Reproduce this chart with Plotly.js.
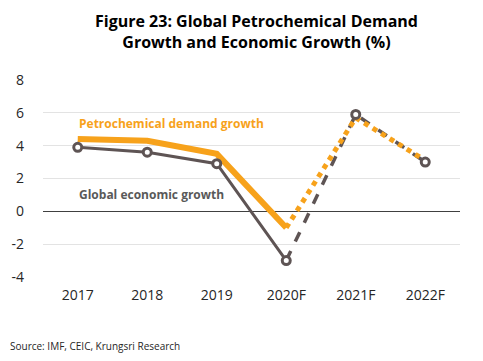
<!DOCTYPE html>
<html>
<head>
<meta charset="utf-8">
<script src="https://cdn.plot.ly/plotly-3.0.1.min.js"></script>
<style>html,body{margin:0;padding:0;background:#fff;}#chart{width:483px;height:361px;}</style>
</head>
<body>
<div id="chart"></div>
<script>
const categories = ["2017", "2018", "2019", "2020F", "2021F", "2022F"];
const petroDemand = [4.4, 4.3, 3.5, -1.0, 5.7, 3.1];
const econGrowth = [3.9, 3.6, 2.9, -3.0, 5.9, 3.0];
const yTicks = [-4, -2, 0, 2, 4, 6, 8];
const splitIdx = 3; // 2020F: actual -> forecast

const ORANGE = "#F7A21B";
const GRAY = "#5E5454";

const traces = [
  {x: categories.slice(0, splitIdx + 1), y: econGrowth.slice(0, splitIdx + 1), mode: "lines",
   line: {color: GRAY, width: 3}, hoverinfo: "skip"},
  {x: categories.slice(splitIdx), y: econGrowth.slice(splitIdx), mode: "lines",
   line: {color: GRAY, width: 3.5, dash: "dash"}, hoverinfo: "skip"},
  {x: categories.slice(0, splitIdx + 1), y: petroDemand.slice(0, splitIdx + 1), mode: "lines",
   line: {color: ORANGE, width: 6}, hoverinfo: "skip"},
  {x: categories.slice(splitIdx), y: petroDemand.slice(splitIdx), mode: "lines",
   line: {color: ORANGE, width: 5, dash: "dot"}, hoverinfo: "skip"},
  {x: categories, y: econGrowth, mode: "markers",
   marker: {color: "#FFFFFF", size: 8, line: {color: GRAY, width: 3}}, hoverinfo: "skip"}
];

function py(p) { return (277 - p) / 197; }

const layout = {
  width: 483, height: 361,
  margin: {l: 43, r: 23, t: 80, b: 84},
  paper_bgcolor: "#FFFFFF", plot_bgcolor: "#FFFFFF",
  showlegend: false,
  font: {family: "Open Sans, sans-serif", color: "#262626"},
  xaxis: {
    type: "category", categoryarray: categories, range: [-0.5, 5.5],
    showgrid: false, zeroline: false, showline: false, ticks: "",
    tickfont: {size: 14, color: "#262626"}, ticklabelstandoff: 8
  },
  yaxis: {
    range: [-4, 8], tickvals: yTicks, ticktext: yTicks.map(String),
    showgrid: true, gridcolor: "#E3E3E3", gridwidth: 1,
    zeroline: true, zerolinecolor: "#404040", zerolinewidth: 1,
    showline: false, ticks: "",
    tickfont: {size: 14, color: "#262626"}, ticklabelstandoff: 18
  },
  annotations: [
    {text: "<b>Figure 23: Global Petrochemical Demand<br>Growth and Economic Growth (%)</b>",
     xref: "paper", yref: "paper", x: (256 - 43) / 417, y: py(31),
     xanchor: "center", yanchor: "middle", showarrow: false, align: "center",
     font: {size: 16, color: "#000000", family: "Open Sans, sans-serif"}},
    {text: "<b>Petrochemical demand growth</b>", xref: "paper", yref: "paper",
     x: (77 - 43) / 417, y: py(123), xanchor: "left", yanchor: "middle", showarrow: false,
     font: {size: 12, color: ORANGE, family: "Open Sans, sans-serif"}},
    {text: "<b>Global economic growth</b>", xref: "paper", yref: "paper",
     x: (77 - 43) / 417, y: py(194), xanchor: "left", yanchor: "middle", showarrow: false,
     font: {size: 12, color: "#595959", family: "Open Sans, sans-serif"}},
    {text: "Source: IMF, CEIC, Krungsri Research", xref: "paper", yref: "paper",
     x: -35 / 417, y: py(346), xanchor: "left", yanchor: "middle", showarrow: false,
     font: {size: 10, color: "#262626", family: "Open Sans, sans-serif"}}
  ]
};

Plotly.newPlot("chart", traces, layout, {staticPlot: true, displayModeBar: false});
</script>
</body>
</html>
